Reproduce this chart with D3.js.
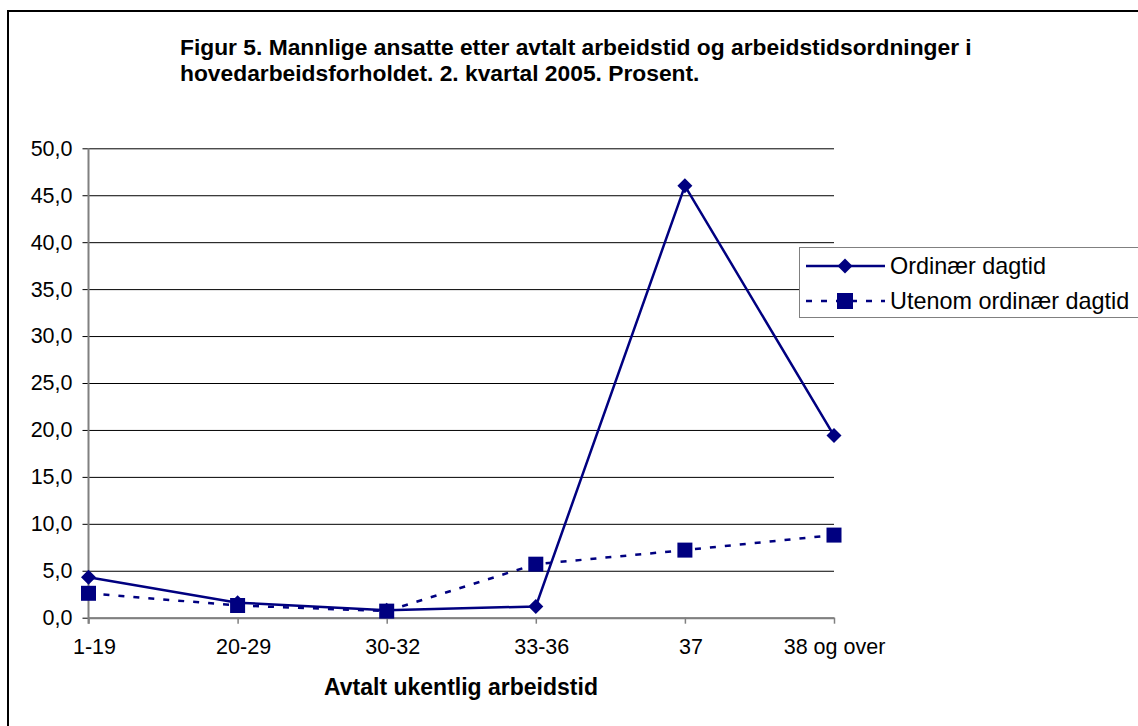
<!DOCTYPE html>
<html>
<head>
<meta charset="utf-8">
<script src="https://cdn.jsdelivr.net/npm/d3@7"></script>
<style>
  html, body { margin: 0; padding: 0; background: #fff; }
  svg { display: block; }
  text { font-family: "Liberation Sans", Arial, sans-serif; fill: #000; }
</style>
</head>
<body>
<svg id="chart" width="1138" height="726"></svg>
<script>
const categories = ["1-19", "20-29", "30-32", "33-36", "37", "38 og over"];
const ordinaer = [4.3, 1.6, 0.8, 1.2, 46.0, 19.4];
const utenom = [2.6, 1.3, 0.7, 5.7, 7.2, 8.8];
const seriesNames = ["Ordinær dagtid", "Utenom ordinær dagtid"];
const yTicks = [0, 5, 10, 15, 20, 25, 30, 35, 40, 45, 50];
const titleLines = [
  "Figur 5. Mannlige ansatte etter avtalt arbeidstid og arbeidstidsordninger i",
  "hovedarbeidsforholdet. 2. kvartal 2005. Prosent."
];
const xTitle = "Avtalt ukentlig arbeidstid";

const svg = d3.select("#chart");
const navy = "#000080";

svg.append("rect").attr("width", 1138).attr("height", 726).attr("fill", "#fff");
svg.append("rect").attr("x", 8).attr("y", 11).attr("width", 1160).attr("height", 760)
  .attr("fill", "none").attr("stroke", "#000").attr("stroke-width", 2);

titleLines.forEach((t, i) => {
  svg.append("text").attr("x", 180).attr("y", 55 + i * 26)
    .attr("font-size", 22.8).attr("font-weight", "bold").text(t);
});

const x0 = 88.5, x1 = 834, yT = 148.3, yB = 617.7;
const x = d3.scalePoint().domain(categories).range([x0, x1]);
const y = d3.scaleLinear().domain([0, 50]).range([yB, yT]);
const fmt = v => d3.format(".1f")(v).replace(".", ",");

const yAxis = d3.axisLeft(y).tickValues(yTicks).tickSize(-(x1 - x0)).tickPadding(16).tickFormat(fmt);
const gy = svg.append("g").attr("transform", `translate(${x0},0)`).call(yAxis);
gy.select(".domain").remove();
gy.selectAll(".tick line").attr("x1", -6).attr("stroke", "#000").attr("stroke-width", 1);
gy.selectAll(".tick text").attr("font-size", 21.5).attr("font-family", "Liberation Sans, Arial, sans-serif").attr("fill", "#000");
svg.append("line").attr("x1", x0).attr("x2", x0).attr("y1", yT).attr("y2", yB + 6)
  .attr("stroke", "#808080").attr("stroke-width", 2);

const xAxis = d3.axisBottom(x).tickSize(6).tickSizeOuter(0).tickPadding(15);
const gx = svg.append("g").attr("transform", `translate(0,${yB})`).call(xAxis);
gx.select(".domain").attr("stroke", "#808080").attr("stroke-width", 2);
gx.selectAll(".tick line").attr("stroke", "#808080").attr("stroke-width", 1.5);
gx.selectAll(".tick text").attr("font-size", 21.5)
  .attr("dx", (d, i) => i === categories.length - 1 ? 0 : 5.5)
  .attr("font-family", "Liberation Sans, Arial, sans-serif").attr("fill", "#000");

svg.append("text").attr("x", 461).attr("y", 695).attr("text-anchor", "middle")
  .attr("font-size", 23).attr("font-weight", "bold").text(xTitle);

const line = d3.line().x((d, i) => x(categories[i])).y(d => y(d));
svg.append("path").datum(ordinaer).attr("d", line).attr("fill", "none")
  .attr("stroke", navy).attr("stroke-width", 2.5);
const diamond = s => `M0,${-s}L${s},0L0,${s}L${-s},0Z`;
svg.append("g").selectAll("path").data(ordinaer).join("path")
  .attr("transform", (d, i) => `translate(${x(categories[i])},${y(d)})`)
  .attr("d", diamond(7.5)).attr("fill", navy);

svg.append("path").datum(utenom).attr("d", line).attr("fill", "none")
  .attr("stroke", navy).attr("stroke-width", 2.5).attr("stroke-dasharray", "6,9");
svg.append("g").selectAll("rect").data(utenom).join("rect")
  .attr("x", (d, i) => x(categories[i]) - 7.5).attr("y", d => y(d) - 7.5)
  .attr("width", 15).attr("height", 15).attr("fill", navy);

const lg = svg.append("g");
lg.append("rect").attr("x", 799.5).attr("y", 247.5).attr("width", 400).attr("height", 70)
  .attr("fill", "#fff").attr("stroke", "#808080").attr("stroke-width", 1);
const rows = [266, 301];
lg.append("line").attr("x1", 806).attr("x2", 885).attr("y1", rows[0]).attr("y2", rows[0])
  .attr("stroke", navy).attr("stroke-width", 2.5);
lg.append("path").attr("transform", `translate(845,${rows[0]})`).attr("d", diamond(7.5)).attr("fill", navy);
lg.append("line").attr("x1", 806).attr("x2", 885).attr("y1", rows[1]).attr("y2", rows[1])
  .attr("stroke", navy).attr("stroke-width", 2.5).attr("stroke-dasharray", "6,9");
lg.append("rect").attr("x", 837).attr("y", rows[1] - 8).attr("width", 16).attr("height", 16).attr("fill", navy);
seriesNames.forEach((n, i) => {
  lg.append("text").attr("x", 890).attr("y", rows[i]).attr("dy", "0.35em")
    .attr("font-size", 23.4).text(n);
});
</script>
</body>
</html>
